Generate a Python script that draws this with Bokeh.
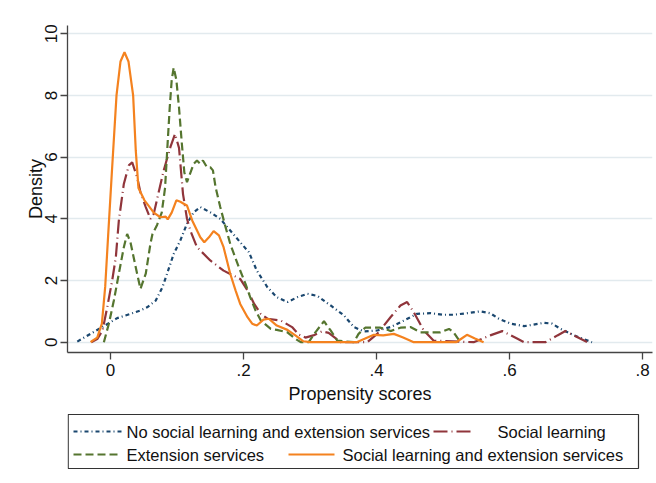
from bokeh.plotting import figure
from bokeh.layouts import column
from bokeh.models import Range1d, FixedTicker
from bokeh.core.properties import value
from bokeh.embed import file_html
from bokeh.resources import INLINE

# Kernel density of propensity scores, one curve per group
none_x = [-0.050, -0.030, -0.0125, 0.0, 0.010, 0.030, 0.045, 0.055, 0.068, 0.078,
          0.085, 0.095, 0.105, 0.115, 0.125, 0.135, 0.150, 0.165, 0.180, 0.195,
          0.208, 0.220, 0.236, 0.250, 0.266, 0.281, 0.296, 0.311, 0.331, 0.351,
          0.366, 0.381, 0.401, 0.421, 0.441, 0.461, 0.481, 0.501, 0.516, 0.536,
          0.556, 0.571, 0.584, 0.602, 0.622, 0.636, 0.652, 0.664, 0.677, 0.697,
          0.724]
none_y = [0.02, 0.27, 0.49, 0.65, 0.78, 0.92, 1.03, 1.13, 1.35, 1.78,
          2.22, 2.86, 3.30, 3.84, 4.21, 4.38, 4.21, 4.00, 3.62, 3.24,
          2.92, 2.32, 1.78, 1.46, 1.30, 1.46, 1.57, 1.50, 1.19, 0.87,
          0.49, 0.35, 0.38, 0.49, 0.70, 0.92, 0.94, 0.89, 0.89, 0.94,
          1.00, 0.94, 0.76, 0.60, 0.52, 0.57, 0.63, 0.60, 0.43, 0.22,
          0.00]

social_x = [-0.029, -0.020, -0.012, -0.005, 0.0025, 0.008, 0.0125, 0.020, 0.0275, 0.0326,
            0.040, 0.045, 0.053, 0.060, 0.065, 0.073, 0.080, 0.090, 0.097, 0.103,
            0.109, 0.115, 0.120, 0.130, 0.150, 0.170, 0.185, 0.195, 0.206, 0.216,
            0.226, 0.236, 0.256, 0.273, 0.283, 0.293, 0.305, 0.318, 0.328, 0.346,
            0.386, 0.401, 0.421, 0.436, 0.446, 0.456, 0.471, 0.486, 0.546, 0.571,
            0.589, 0.612, 0.622, 0.654, 0.672, 0.684, 0.717]
social_y = [0.00, 0.10, 0.38, 1.13, 2.00, 2.76, 3.94, 5.13, 5.73, 5.83,
            5.35, 4.86, 4.38, 4.00, 4.16, 4.92, 5.57, 6.32, 6.75, 6.30,
            4.80, 4.00, 3.62, 3.08, 2.65, 2.32, 2.16, 2.05, 1.68, 1.24,
            0.92, 0.76, 0.70, 0.49, 0.25, 0.15, 0.22, 0.35, 0.30, 0.00,
            0.00, 0.27, 0.81, 1.19, 1.30, 0.97, 0.38, 0.05, 0.00, 0.22,
            0.36, 0.11, 0.00, 0.00, 0.22, 0.36, 0.00]

ext_x = [-0.010, -0.0025, 0.005, 0.0125, 0.020, 0.025, 0.030, 0.0326, 0.040, 0.045,
         0.053, 0.060, 0.063, 0.070, 0.077, 0.082, 0.086, 0.089, 0.092, 0.095,
         0.099, 0.103, 0.107, 0.111, 0.115, 0.125, 0.130, 0.135, 0.139, 0.145,
         0.150, 0.154, 0.158, 0.165, 0.173, 0.180, 0.193, 0.203, 0.210, 0.218,
         0.226, 0.241, 0.250, 0.266, 0.278, 0.286, 0.298, 0.308, 0.321, 0.331,
         0.341, 0.366, 0.373, 0.383, 0.406, 0.413, 0.421, 0.436, 0.451, 0.466,
         0.481, 0.496, 0.509, 0.516, 0.526]
ext_y = [0.00, 0.60, 1.35, 2.22, 3.08, 3.51, 3.24, 2.97, 2.22, 1.73,
         2.22, 3.19, 3.50, 3.80, 4.20, 5.00, 6.50, 7.60, 8.50, 8.90,
         8.50, 7.60, 6.50, 5.50, 5.19, 5.78, 5.89, 5.78, 5.89, 5.67,
         5.67, 5.57, 5.02, 4.38, 3.73, 3.19, 2.43, 1.89, 1.46, 1.03,
         0.70, 0.43, 0.40, 0.32, 0.11, 0.00, 0.00, 0.32, 0.68, 0.38,
         0.05, 0.00, 0.27, 0.47, 0.47, 0.43, 0.36, 0.47, 0.49, 0.32,
         0.32, 0.32, 0.43, 0.32, 0.00]

both_x = [-0.030, -0.027, -0.020, -0.013, -0.008, -0.004, 0.002, 0.009, 0.015, 0.021,
          0.027, 0.034, 0.038, 0.042, 0.051, 0.058, 0.065, 0.075, 0.083, 0.086,
          0.092, 0.099, 0.105, 0.110, 0.115, 0.123, 0.135, 0.141, 0.148, 0.155,
          0.163, 0.170, 0.180, 0.188, 0.195, 0.206, 0.213, 0.220, 0.230, 0.238,
          0.250, 0.266, 0.278, 0.290, 0.300, 0.370, 0.383, 0.396, 0.410, 0.426,
          0.440, 0.456, 0.520, 0.528, 0.536, 0.548, 0.561]
both_y = [0.00, 0.05, 0.15, 0.60, 1.80, 3.30, 5.50, 8.00, 9.10, 9.40,
          9.10, 8.00, 6.20, 5.00, 4.60, 4.40, 4.20, 4.05, 4.07, 3.98,
          4.20, 4.60, 4.55, 4.49, 4.43, 3.94, 3.40, 3.24, 3.40, 3.60,
          3.46, 3.08, 2.22, 1.68, 1.24, 0.81, 0.60, 0.54, 0.73, 0.76,
          0.54, 0.40, 0.22, 0.03, 0.00, 0.00, 0.12, 0.24, 0.22, 0.27,
          0.15, 0.00, 0.00, 0.12, 0.24, 0.12, 0.00]

x_ticks = [0, 0.2, 0.4, 0.6, 0.8]
x_tick_labels = ["0", ".2", ".4", ".6", ".8"]
y_ticks = [0, 2, 4, 6, 8, 10]

labels = ["No social learning and extension services", "Social learning",
          "Extension services", "Social learning and extension services"]

FONT = "Liberation Sans"
LEFT, RIGHT = 67, 4
styles = [
    (none_x, none_y, "#1a476f", "4 3 1 3"),
    (social_x, social_y, "#90353b", "14 4 1 4"),
    (ext_x, ext_y, "#55752f", "8 4"),
    (both_x, both_y, "#f4821f", "solid"),
]

p = figure(width=656, height=408,
           x_range=Range1d(-0.0647, 0.815), y_range=Range1d(-0.334, 10.266),
           output_backend="svg", toolbar_location=None,
           min_border_left=LEFT, min_border_right=RIGHT, min_border_top=25,
           min_border_bottom=56)
p.background_fill_color = "white"
p.border_fill_color = "white"
p.outline_line_color = None

for xs, ys, color, dash in styles:
    p.line(xs, ys, line_color=color, line_width=2.2, line_dash=dash)

p.xgrid.visible = False
p.ygrid.grid_line_color = "#e2eaee"
p.ygrid.grid_line_width = 1.5

p.xaxis.ticker = FixedTicker(ticks=x_ticks)
p.xaxis.major_label_overrides = {t: s for t, s in zip(x_ticks, x_tick_labels)}
p.yaxis.ticker = FixedTicker(ticks=y_ticks)
p.xaxis.axis_label = "Propensity scores"
p.yaxis.axis_label = "Density"
p.yaxis.major_label_orientation = "vertical"

for ax in (p.xaxis[0], p.yaxis[0]):
    ax.axis_line_color = "#444444"
    ax.axis_line_width = 1.3
    ax.major_tick_line_color = "#444444"
    ax.major_tick_line_width = 1.3
    ax.major_tick_out = 7
    ax.major_tick_in = 0
    ax.minor_tick_line_color = None
    ax.major_label_text_font = FONT
    ax.major_label_text_font_size = "17px"
    ax.major_label_text_color = "#111111"
    ax.axis_label_text_font = FONT
    ax.axis_label_text_font_size = "18px"
    ax.axis_label_text_font_style = "normal"
    ax.axis_label_text_color = "#111111"

p.xaxis.major_label_standoff = 4
p.xaxis.axis_label_standoff = 5
p.yaxis.major_label_standoff = 3
p.yaxis.axis_label_standoff = -3

# Legend panel below the plot; its x coordinates are page pixels
lg = figure(width=656, height=75, x_range=Range1d(LEFT, 656 - RIGHT), y_range=Range1d(75, 0),
            output_backend="svg", toolbar_location=None,
            min_border_left=LEFT, min_border_right=RIGHT, min_border_top=0, min_border_bottom=0)
lg.axis.visible = False
lg.grid.visible = False
lg.outline_line_color = None
lg.background_fill_color = "white"
lg.border_fill_color = "white"

lg.quad(left=[67.7], right=[638], top=[6], bottom=[60],
        fill_color=None, line_color="#333333", line_width=1.2)

row_y = [23, 23, 46, 46]
key_x0 = [73, 433, 73, 288]
key_x1 = [121, 471, 121, 334]
text_x = [126, 497, 126, 342]
for (xs, ys, color, dash), y, a, b in zip(styles, row_y, key_x0, key_x1):
    lg.line([a, b], [y, y], line_color=color, line_width=2.2, line_dash=dash)
lg.text(x=text_x, y=row_y, text=labels, text_font=value(FONT),
        text_font_size="16.5px", text_baseline="middle", text_align="left",
        text_color="#111111")

layout = column(p, lg, spacing=0)
open("out.html", "w").write(file_html(layout, INLINE))
